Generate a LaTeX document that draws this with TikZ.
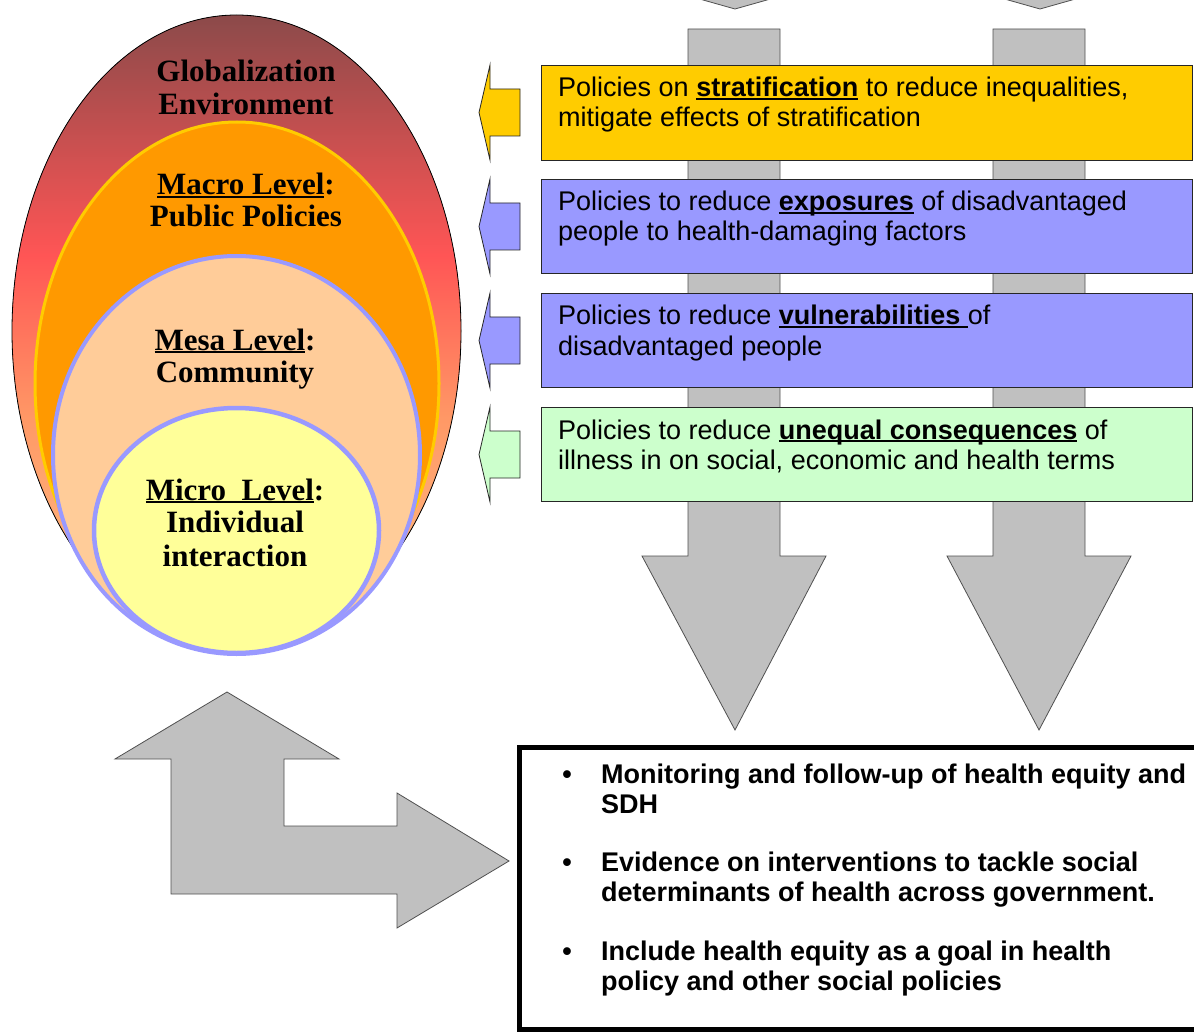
\documentclass[tikz,border=0pt]{standalone}
\usepackage{fontspec}
\setmainfont{Liberation Serif}
\newfontfamily\arialf{Liberation Sans}
\definecolor{boxyellow}{HTML}{FFCC00}
\definecolor{boxblue}{HTML}{9999FF}
\definecolor{boxgreen}{HTML}{CCFFCC}
\definecolor{arrowgray}{HTML}{C0C0C0}
\definecolor{arrowline}{HTML}{505050}
\definecolor{gbrown}{HTML}{8B4A4A}
\definecolor{gred}{HTML}{FF5555}
\definecolor{gorange}{HTML}{FF9966}
\definecolor{glight}{HTML}{FFC488}
\definecolor{macrofill}{HTML}{FF9900}
\definecolor{mesafill}{HTML}{FFCC99}
\definecolor{microfill}{HTML}{FFFF99}
\newsavebox\ulbox
\newcommand\myul[1]{\sbox\ulbox{#1}\rlap{\rule[-3pt]{\wd\ulbox}{1.8pt}}\usebox\ulbox}
\begin{document}
\begin{tikzpicture}[x=1pt,y=-1pt,
  bigarrow/.style={fill=arrowgray,draw=arrowline,line width=0.8pt,line join=miter},
  policybox/.style={draw=black!85,line width=0.9pt},
  smallarrow/.style={draw=black!85,line width=0.8pt},
  boxtext/.style={anchor=base west,inner sep=0pt,font=\arialf\fontsize{27}{30}\selectfont},
  bullettext/.style={anchor=base west,inner sep=0pt,font=\arialf\bfseries\fontsize{27}{30}\selectfont},
  lvltext/.style={anchor=base,inner sep=0pt,font=\bfseries\fontsize{31}{33}\selectfont}]
\useasboundingbox (0,0) rectangle (1194,1032);
\clip (0,0) rectangle (1194,1032);
\fill[white] (0,0) rectangle (1194,1032);

% ---------- left nested ellipses ----------
\begin{scope}
  \clip (236.5,331) ellipse [x radius=224.5, y radius=316];
  \fill[top color=gbrown,bottom color=gred] (0,14) rectangle (470,255.5);
  \fill[top color=gred,bottom color=gorange] (0,255) rectangle (470,420.5);
  \fill[top color=gorange,bottom color=glight] (0,420) rectangle (470,660);
\end{scope}
\draw[black,line width=0.8pt] (236.5,331) ellipse [x radius=224.5, y radius=316];
\draw[fill=macrofill,draw=boxyellow,line width=3pt] (237,383.5) ellipse [x radius=202, y radius=261.5];
\draw[fill=mesafill,draw=boxblue,line width=4pt] (236.5,455) ellipse [x radius=183.5, y radius=199];
\draw[fill=microfill,draw=boxblue,line width=4.5pt] (236.5,530.5) ellipse [x radius=142.5, y radius=122.5];

\node[lvltext] (glob1) at (246,82) {Globalization};
\node[lvltext] (glob2) at (246,115) {Environment};
\node[lvltext] (macro1) at (246,195) {\myul{Macro Level}:};
\node[lvltext] (macro2) at (246,227) {Public Policies};
\node[lvltext] (mesa1) at (235,350) {\myul{Mesa Level}:};
\node[lvltext] (mesa2) at (235,382) {Community};
\node[lvltext] (micro1) at (235,500) {\myul{Micro\ \ Level}:};
\node[lvltext] (micro2) at (235,532) {Individual};
\node[lvltext] (micro3) at (235,566) {interaction};

% ---------- top chevrons (tips of arrows coming from above) ----------
\draw[bigarrow] (696,-2) -- (735,9) -- (774,-2);
\draw[bigarrow] (1001,-2) -- (1040,9) -- (1079,-2);

% ---------- big down arrows ----------
\draw[bigarrow] (688,29) -- (780,29) -- (780,556) -- (826,556) -- (735,730) -- (642,556) -- (688,556) -- cycle;
\draw[bigarrow] (993,29) -- (1085,29) -- (1085,556) -- (1131,556) -- (1039,730) -- (947,556) -- (993,556) -- cycle;

% ---------- policy boxes ----------
\node[policybox,fill=boxyellow,minimum width=651pt,minimum height=95pt,anchor=north west,inner sep=0pt] (bstrat) at (541,65) {};
\node[policybox,fill=boxblue,minimum width=651pt,minimum height=94pt,anchor=north west,inner sep=0pt] (bexpo) at (541,179) {};
\node[policybox,fill=boxblue,minimum width=651pt,minimum height=94pt,anchor=north west,inner sep=0pt] (bvuln) at (541,293) {};
\node[policybox,fill=boxgreen,minimum width=651pt,minimum height=94pt,anchor=north west,inner sep=0pt] (bcons) at (541,407) {};

\node[boxtext] (t1a) at (558,97) {Policies on \myul{\textbf{stratification}} to reduce inequalities,};
\node[boxtext] (t1b) at (558,127) {mitigate effects of stratification};
\node[boxtext] (t2a) at (558,211) {Policies to reduce \myul{\textbf{exposures}} of disadvantaged};
\node[boxtext] (t2b) at (558,241) {people to health-damaging factors};
\node[boxtext] (t3a) at (558,325) {Policies to reduce \myul{\textbf{vulnerabilities }}of};
\node[boxtext] (t3b) at (558,355) {disadvantaged people};
\node[boxtext] (t4a) at (558,439) {Policies to reduce \myul{\textbf{unequal consequences}} of};
\node[boxtext] (t4b) at (558,469) {illness in on social, economic and health terms};

% ---------- small left arrows ----------
\draw[smallarrow,fill=boxyellow] (520,89) -- (490,89) -- (490,65) -- (479,112.5) -- (490,160) -- (490,136) -- (520,136) -- cycle;
\draw[smallarrow,fill=boxblue] (520,203) -- (490,203) -- (490,179) -- (479,226.5) -- (490,274) -- (490,250) -- (520,250) -- cycle;
\draw[smallarrow,fill=boxblue] (520,317) -- (490,317) -- (490,293) -- (479,340.5) -- (490,388) -- (490,364) -- (520,364) -- cycle;
\draw[smallarrow,fill=boxgreen] (520,431) -- (490,431) -- (490,407) -- (479,454.5) -- (490,502) -- (490,478) -- (520,478) -- cycle;

% ---------- bottom-left bent double arrow ----------
\draw[bigarrow] (227,692) -- (339,759) -- (284,759) -- (284,826) -- (397,826) -- (397,793) -- (509,861) -- (397,928) -- (397,894) -- (171,894) -- (171,759) -- (115,759) -- cycle;

% ---------- bottom box ----------
\draw[black,line width=5pt] (1210,747.5) -- (519.5,747.5) -- (519.5,1029) -- (1210,1029);
\node[bullettext,anchor=base] (bul1) at (567,783) {•};
\node[bullettext] (l1a) at (601,783) {Monitoring and follow-up of health equity and};
\node[bullettext] (l1b) at (601,813) {SDH};
\node[bullettext,anchor=base] (bul2) at (567,871) {•};
\node[bullettext] (l2a) at (601,871) {Evidence on interventions to tackle social};
\node[bullettext] (l2b) at (601,901) {determinants of health across government.};
\node[bullettext,anchor=base] (bul3) at (567,960) {•};
\node[bullettext] (l3a) at (601,960) {Include health equity as a goal in health};
\node[bullettext] (l3b) at (601,990) {policy and other social policies};
\end{tikzpicture}
\end{document}
